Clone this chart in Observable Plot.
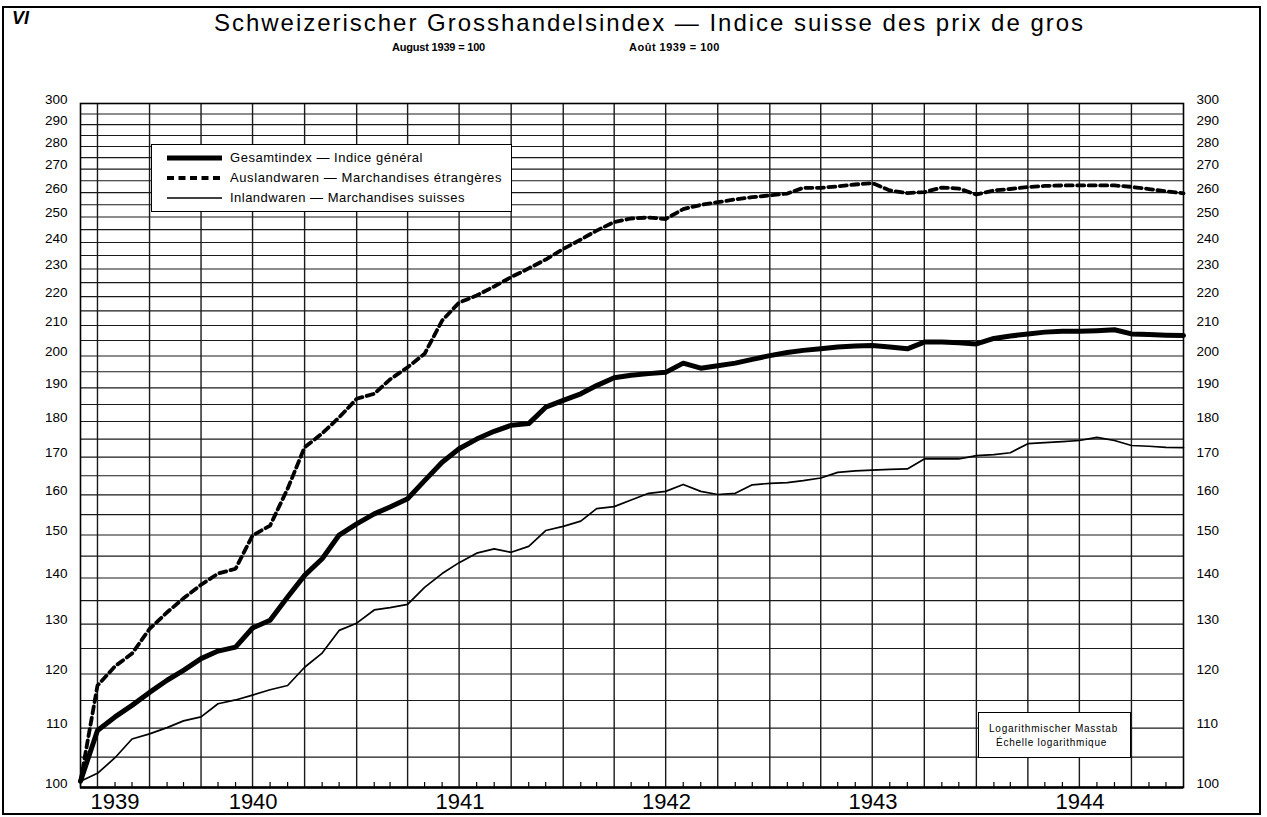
<!DOCTYPE html>
<html><head><meta charset="utf-8">
<script src="https://cdn.jsdelivr.net/npm/d3@7"></script>
<script src="https://cdn.jsdelivr.net/npm/@observablehq/plot@0.6"></script>
<style>
body{margin:0;background:#fff;font-family:"Liberation Sans",Arial,sans-serif;color:#000}
#page{position:relative;width:1267px;height:817px;overflow:hidden;background:#fff}
.t{position:absolute;white-space:nowrap;line-height:1}
#legend{position:absolute;left:151px;top:144px;width:361px;height:68px;background:#fff;border:1.5px solid #000;box-sizing:border-box}
#scalebox{position:absolute;left:978px;top:712px;width:153px;height:46px;background:#fff;border:1.2px solid #000;box-sizing:border-box}
#border{position:absolute;left:2px;top:6px;width:1259px;height:809px;border:2px solid #000;box-sizing:border-box;pointer-events:none}
</style></head><body>
<div id="page">
  <div id="header" style="position:relative;height:88px">
    <span class="t" id="vi" style="left:12px;top:9px;font-size:18px;font-weight:bold;font-style:italic">VI</span>
    <span class="t" id="title" style="left:214px;top:11px;font-size:24px">Schweizerischer Grosshandelsindex — Indice suisse des prix de gros</span>
    <span class="t" id="sub1" style="left:392px;top:42px;font-size:11px;font-weight:bold">August 1939 = 100</span>
    <span class="t" id="sub2" style="left:629px;top:42px;font-size:11px;font-weight:bold">Août 1939 = 100</span>
  </div>
  <div id="chart"></div>
  <div id="legend"></div>
  <div id="scalebox">
    <span class="t" id="sc1" style="left:10px;top:11px;font-size:10px">Logarithmischer Masstab</span>
    <span class="t" id="sc2" style="left:17px;top:25px;font-size:10px">Échelle logarithmique</span>
  </div>
  <div id="border"></div>
</div>
<script>
// Monthly index values, Aug 1939 = 100, months Aug 1939 .. Dec 1944 (each plotted at its month's end)
const seriesNames = ["Gesamtindex — Indice général", "Auslandwaren — Marchandises étrangères", "Inlandwaren — Marchandises suisses"];
const gesamt = [101,109.6,112.0,114.1,116.5,118.8,120.7,123.0,124.5,125.3,129.2,130.8,135.8,140.6,144.4,150.0,152.7,155.2,156.9,159.0,163.7,168.6,172.3,175.0,177.2,178.9,179.4,184.2,186.2,188.2,190.7,193.1,193.9,194.4,194.8,197.7,196.1,196.9,197.7,198.9,200.1,201.1,201.8,202.3,202.9,203.2,203.4,202.9,202.3,204.5,204.5,204.3,203.9,205.7,206.5,207.2,207.8,208.1,208.1,208.3,208.6,207.2,207.0,206.8,206.7];
const ausland = [101,117.8,121.5,124.0,129.0,132.5,135.5,138.5,141.0,142.1,149.9,152.3,161.6,172.7,176.6,181.2,186.7,188.2,192.6,196.4,200.7,211.7,217.9,220.4,223.6,227.0,230.2,233.5,237.5,241.1,244.6,248.0,249.4,249.8,249.2,253.2,254.9,256.0,257.2,258.1,258.8,259.6,262.0,262.0,262.6,263.4,264.0,260.9,259.8,260.2,262.1,261.7,259.2,260.9,261.5,262.3,262.8,263.0,263.0,263.0,263.0,262.4,261.5,260.5,259.7];
const inland = [101,102.3,104.9,108.1,109.0,110.1,111.3,112.0,114.4,115.1,116.0,117.0,117.8,121.3,124.1,128.7,130.2,133.0,133.5,134.2,137.9,141.0,143.5,145.7,146.7,145.9,147.3,151.1,152.1,153.4,156.5,157.0,158.7,160.4,160.9,162.7,160.9,160.1,160.4,162.6,163.0,163.2,163.7,164.4,165.9,166.3,166.5,166.7,166.8,169.5,169.5,169.5,170.4,170.7,171.2,173.7,174.0,174.3,174.6,175.5,174.6,173.2,173.0,172.7,172.6];
const yearLabels = ["1939","1940","1941","1942","1943","1944"];
const yTickValues = d3.range(100, 301, 10);
const yGridValues = d3.range(100, 301, 5);

const startYear = 1939, startMonth = 7; // August
const monthEnd = k => new Date(Date.UTC(startYear, startMonth + k + 1, 1));
const domainStart = monthEnd(0), domainEnd = monthEnd(gesamt.length - 1);

const rows = (vals, s) => vals.map((v, k) => ({date: monthEnd(k), value: v, series: s}));
const gRows = rows(gesamt, seriesNames[0]);
const aRows = rows(ausland, seriesNames[1]);
const iRows = rows(inland, seriesNames[2]);

const allMonths = d3.utcMonth.range(domainStart, domainEnd);
const quarters = allMonths.filter(d => d.getUTCMonth() % 3 === 0);
const monthTicks = allMonths.filter(d => d.getUTCMonth() % 3 !== 0);
const yearTicks = yearLabels.map(y => {
  const a = Math.max(Date.UTC(+y, 0, 1), +domainStart), b = Math.min(Date.UTC(+y + 1, 0, 1), +domainEnd);
  return new Date((a + b) / 2);
});

const gridColor = "#1a1a1a";
const dash = "7,4.5";
const chart = Plot.plot({
  width: 1267, height: 729,
  marginTop: 15, marginBottom: 30, marginLeft: 80, marginRight: 84,
  style: {background: "#fff", color: "#000", fontFamily: "'Liberation Sans', Arial, sans-serif"},
  x: {type: "utc", domain: [domainStart, domainEnd], label: null},
  y: {type: "log", domain: [100, 300], label: null},
  marks: [
    Plot.ruleY(yGridValues, {stroke: gridColor, strokeWidth: 1.1}),
    Plot.ruleX(quarters, {stroke: gridColor, strokeWidth: 1.4}),
    Plot.ruleX(monthTicks, {stroke: "#000", strokeWidth: 1.2, insetTop: 679}),
    Plot.line(iRows, {x: "date", y: "value", stroke: "#000", strokeWidth: 1.7, strokeLinejoin: "round"}),
    Plot.line(aRows, {x: "date", y: "value", stroke: "#000", strokeWidth: 3.8, strokeDasharray: dash, strokeLinejoin: "round"}),
    Plot.line(gRows, {x: "date", y: "value", stroke: "#000", strokeWidth: 5, strokeLinejoin: "round"}),
    Plot.frame({stroke: "#000", strokeWidth: 1.6}),
    Plot.ruleY([100], {stroke: "#000", strokeWidth: 2.4}),
    Plot.axisY(yTickValues, {anchor: "left", tickSize: 0, tickPadding: 13, fontSize: 13.5, dy: -4, tickFormat: d => String(d), label: null}),
    Plot.axisY(yTickValues, {anchor: "right", tickSize: 0, tickPadding: 13, fontSize: 13.5, dy: -4, tickFormat: d => String(d), label: null}),
    Plot.axisX(yearTicks, {anchor: "bottom", tickSize: 0, tickPadding: 6, fontSize: 22, tickFormat: (d, i) => yearLabels[i], label: null})
  ]
});
document.getElementById("chart").appendChild(chart);

const legend = document.getElementById("legend");
const legendStyles = [
  {w: 5, dash: null},
  {w: 3.8, dash: dash},
  {w: 1.7, dash: null}
];
const legendTargets = [193, 272, 235];
seriesNames.forEach((name, i) => {
  const row = document.createElement("div");
  row.style.cssText = `position:absolute;left:0;top:${5 + i * 20}px;height:16px;width:100%`;
  const st = legendStyles[i];
  row.innerHTML = `<svg width="75" height="16" style="position:absolute;left:0;top:0"><line x1="15" x2="70" y1="8" y2="8" stroke="#000" stroke-width="${st.w}" ${st.dash ? `stroke-dasharray="${st.dash}"` : ""}/></svg>` +
    `<span class="t lg" style="left:78px;top:1px;font-size:13px">${name}</span>`;
  legend.appendChild(row);
});

function fit(el, target) {
  el.style.letterSpacing = "0px";
  const w = el.getBoundingClientRect().width;
  const n = el.textContent.length;
  el.style.letterSpacing = ((target - w) / n) + "px";
}
fit(document.getElementById("title"), 871);
fit(document.getElementById("sub1"), 93);
fit(document.getElementById("sub2"), 91);
document.querySelectorAll(".lg").forEach((el, i) => fit(el, legendTargets[i]));
fit(document.getElementById("sc1"), 129);
fit(document.getElementById("sc2"), 111);
</script>
</body></html>
